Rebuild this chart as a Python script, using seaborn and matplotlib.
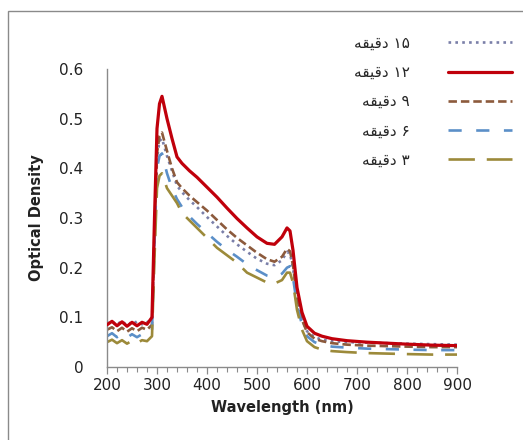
import numpy as np
import pandas as pd
import matplotlib
matplotlib.use("Agg")
import matplotlib.pyplot as plt
from matplotlib.patches import Rectangle
from matplotlib.ticker import MultipleLocator
import seaborn as sns

# ---------------- data ----------------
wavelength = [200, 210, 220, 230, 240, 250, 260, 270, 280, 290, 295, 300, 305, 310,
              320, 330, 340, 350, 365, 380, 400, 420, 440, 460, 480, 500, 520, 535,
              550, 560, 566, 572, 580, 590, 600, 615, 630, 650, 680, 720, 760, 800,
              850, 900]

od_15 = [.090, .085, .093, .084, .092, .085, .092, .086, .090, .095, .26, .42, .455, .46,
         .425, .395, .365, .352, .336, .322, .302, .283, .264, .247, .232, .218, .208, .205,
         .215, .232, .228, .200, .140, .095, .072, .060, .055, .052, .050, .049, .048, .047,
         .046, .045]
od_12 = [.085, .092, .083, .091, .082, .090, .083, .090, .086, .100, .30, .48, .53, .545,
         .50, .46, .423, .410, .395, .382, .362, .342, .320, .299, .280, .262, .249, .247,
         .262, .280, .274, .235, .160, .110, .082, .068, .062, .057, .053, .050, .048, .046,
         .044, .043]
od_9 = [.075, .080, .072, .079, .071, .078, .072, .079, .075, .085, .27, .43, .465, .472,
        .435, .400, .372, .360, .345, .332, .315, .296, .277, .260, .245, .230, .217, .212,
        .222, .238, .233, .205, .140, .095, .070, .057, .052, .048, .045, .043, .042, .041,
        .040, .040]
od_6 = [.062, .068, .060, .067, .059, .066, .060, .066, .063, .075, .25, .40, .425, .43,
        .39, .36, .338, .322, .303, .288, .270, .252, .236, .222, .207, .195, .184, .180,
        .188, .200, .203, .180, .125, .085, .062, .050, .045, .041, .039, .037, .036, .035,
        .034, .034]
od_3 = [.050, .055, .048, .054, .047, .053, .048, .054, .052, .062, .22, .36, .385, .39,
        .36, .345, .33, .31, .295, .28, .26, .24, .225, .21, .19, .18, .17, .168,
        .175, .190, .190, .170, .115, .075, .052, .040, .035, .032, .030, .028, .027, .026,
        .025, .025]

labels = ["۱۵ دقیقه", "۱۲ دقیقه", "۹ دقیقه", "۶ دقیقه", "۳ دقیقه"]
series = [od_15, od_12, od_9, od_6, od_3]
colors = ["#7a7fa8", "#c0000b", "#8c5a3c", "#5b8fc8", "#9c8a3a"]
dash_styles = [(1.0, 1.6), None, (3.2, 1.5), (5.0, 5.5), (10.0, 4.5)]
line_widths = [1.9, 2.3, 1.9, 1.9, 1.9]

x_ticks = [200, 300, 400, 500, 600, 700, 800, 900]
y_ticks = [0, 0.1, 0.2, 0.3, 0.4, 0.5, 0.6]
y_ticklabels = ["0", "0.1", "0.2", "0.3", "0.4", "0.5", "0.6"]


def shape_fa(text):
    """Visual (presentation-form) rendering for the Persian labels."""
    num, word = text.split(" ", 1)
    forms = {"دقیقه": "\uFEEA\uFED8\uFEF4\uFED7\uFEA9"}
    return forms.get(word, word[::-1]) + " " + num


# ---------------- figure ----------------
sns.set_style("white")
plt.rcParams["font.family"] = ["DejaVu Sans"]

fig = plt.figure(figsize=(5.23, 4.40), dpi=100)
ax = fig.add_axes([107 / 523, 1 - 367 / 440, 350 / 523, 298 / 440])

df = pd.DataFrame({"wl": wavelength})
handles = []
for lab, vals, col, dsh, lw in zip(labels, series, colors, dash_styles, line_widths):
    df["od"] = vals
    sns.lineplot(data=df, x="wl", y="od", ax=ax, color=col, linewidth=lw,
                 label=shape_fa(lab), zorder=3 if dsh is None else 2)
    ln = ax.lines[-1]
    if dsh is not None:
        ln.set_dashes(dsh)
    handles.append(ln)

ax.set_xlim(200, 900)
ax.set_ylim(0, 0.6)
ax.set_xticks(x_ticks)
ax.xaxis.set_minor_locator(MultipleLocator(20))
ax.set_yticks(y_ticks)
ax.set_yticklabels(y_ticklabels)

for s in ["top", "right"]:
    ax.spines[s].set_visible(False)
for s in ["left", "bottom"]:
    ax.spines[s].set_color("#8a8a8a")
    ax.spines[s].set_linewidth(1.0)

ax.tick_params(axis="y", length=0, pad=17, labelsize=11, labelcolor="#222222")
ax.tick_params(axis="x", which="major", direction="out", length=5, width=0.9,
               color="#8a8a8a", pad=3, labelsize=11, labelcolor="#222222", bottom=True)
ax.tick_params(axis="x", which="minor", direction="out", length=3.5, width=0.8,
               color="#8a8a8a", bottom=True)

ax.set_xlabel("Wavelength (nm)", fontsize=10.5, fontweight="bold", labelpad=5,
              color="#222222")
ax.set_ylabel("Optical Density", fontsize=10.5, fontweight="bold", labelpad=11,
              color="#222222")

leg = ax.get_legend()
if leg is not None:
    leg.remove()
fig.legend(handles=handles, labels=[h.get_label() for h in handles],
           loc="upper right", bbox_to_anchor=(1.006, 0.95),
           bbox_transform=fig.transFigure, frameon=False, markerfirst=False,
           fontsize=11, handlelength=4.2, handletextpad=2.5, labelspacing=0.93)

# outer chart-area border
fig.patches.append(Rectangle((8 / 523, -0.05), 1.2, 1 - 11 / 440 + 0.05,
                             transform=fig.transFigure, fill=False,
                             edgecolor="#8a8a8a", linewidth=1.0))

fig.savefig("out.png", dpi=100)
